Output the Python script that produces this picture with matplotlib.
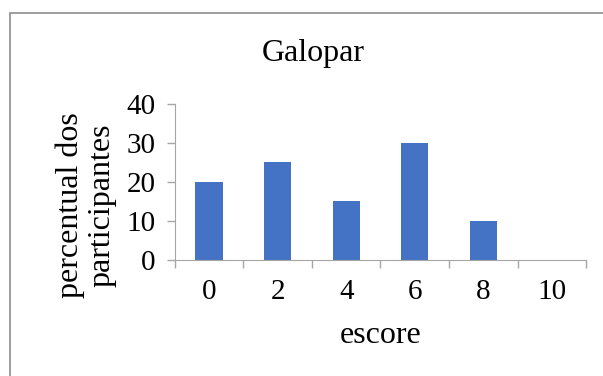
# gráfico de barras "Galopar"
import matplotlib.pyplot as plt
from matplotlib.patches import Rectangle

# dados
escores = ['0', '2', '4', '6', '8', '10']
percentual = [20, 25, 15, 30, 10, 0]
yticks = [0, 10, 20, 30, 40]

plt.rcParams['font.family'] = ['Liberation Serif', 'DejaVu Serif']

fig = plt.figure(figsize=(6.03, 3.76), dpi=100)
ax = fig.add_axes([0.290, 0.309, 0.682, 0.415])

pos = list(range(len(escores)))
ax.bar(pos, percentual, width=0.4, color='#4472C4')

ax.set_xlim(-0.5, len(escores) - 0.5)
ax.set_ylim(0, 40)
ax.set_yticks(yticks)

# marcas nos limites das categorias, rótulos no centro
ax.set_xticks([p - 0.5 for p in pos] + [len(escores) - 0.5])
ax.set_xticklabels([])
ax.set_xticks(pos, minor=True)
ax.set_xticklabels(escores, minor=True)
ax.tick_params(axis='x', which='major', length=6, color='#A6A6A6', width=1)
ax.tick_params(axis='x', which='minor', length=0, pad=14, labelsize=21)
ax.tick_params(axis='y', length=6, color='#A6A6A6', width=1, labelsize=21, pad=8)

for s in ['top', 'right']:
    ax.spines[s].set_visible(False)
for s in ['left', 'bottom']:
    ax.spines[s].set_color('#A6A6A6')

ax.set_xlabel('escore', fontsize=23, labelpad=11)
fig.text(86 / 603, 1 - 205 / 376, 'percentual dos\nparticipantes', fontsize=23,
         rotation=90, ha='center', va='center', linespacing=1.1)

fig.text(0.519, 0.859, 'Galopar', fontsize=23, ha='center', va='center')

# moldura do gráfico
fig.patches.append(Rectangle((10 / 603, -0.5), 2, 1.5 - 13 / 376, transform=fig.transFigure,
                             fill=False, edgecolor='#8C8C8C', linewidth=1.2))

fig.savefig('out.png', dpi=100)
